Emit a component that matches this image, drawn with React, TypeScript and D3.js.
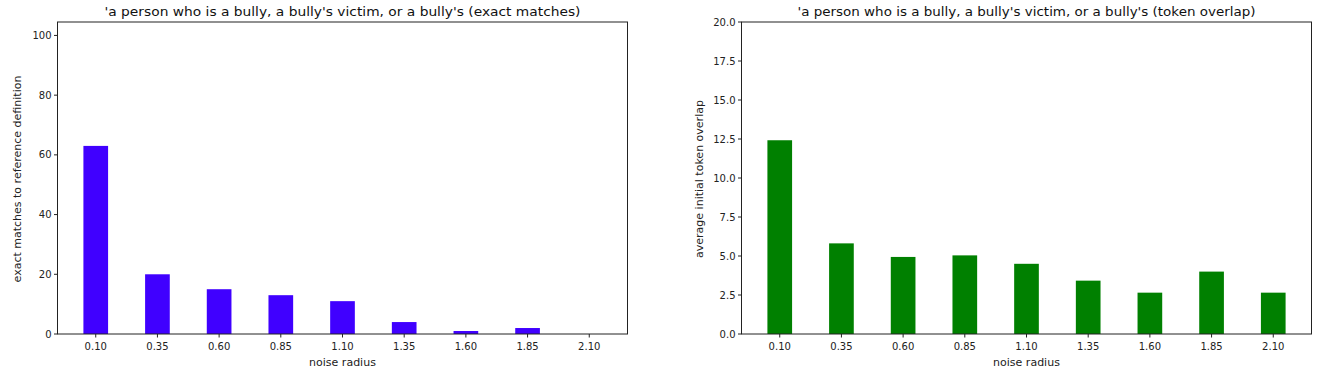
import React from "react";
import * as d3 from "d3";

const categories = ["0.10", "0.35", "0.60", "0.85", "1.10", "1.35", "1.60", "1.85", "2.10"];
const xValues = [0.1, 0.35, 0.6, 0.85, 1.1, 1.35, 1.6, 1.85, 2.1];
const exactMatches = [63, 20, 15, 13, 11, 4, 1, 2, 0];
const tokenOverlap = [12.42, 5.81, 4.94, 5.04, 4.5, 3.42, 2.65, 4.0, 2.65];
const leftTicks = [0, 20, 40, 60, 80, 100];
const rightTicks = [0, 2.5, 5, 7.5, 10, 12.5, 15, 17.5, 20];

const W = 1322;
const H = 375;
const FONT = "DejaVu Sans, sans-serif";

type PanelProps = {
  left: number;
  right: number;
  top: number;
  bottom: number;
  values: number[];
  yMax: number;
  ticks: number[];
  tickFmt: (v: number) => string;
  color: string;
  title: string;
  titleLen: number;
  ylabel: string;
  ylabelX: number;
  ylabelCY: number;
};

function Panel(p: PanelProps) {
  const x = d3.scaleLinear().domain([-0.055, 2.255]).range([p.left, p.right]);
  const y = d3.scaleLinear().domain([0, p.yMax]).range([p.bottom, p.top]);
  const barW = x(0.1) - x(0);
  const cx = (p.left + p.right) / 2;
  return (
    <g fontFamily={FONT}>
      {p.values.map((v, i) => (
        <rect
          key={i}
          x={x(xValues[i]) - barW / 2}
          y={y(v)}
          width={barW}
          height={p.bottom - y(v)}
          fill={p.color}
        />
      ))}
      <rect
        x={p.left}
        y={p.top}
        width={p.right - p.left}
        height={p.bottom - p.top}
        fill="none"
        stroke="#222"
        strokeWidth={1}
      />
      {p.ticks.map((t, i) => (
        <g key={i}>
          <line x1={p.left - 3.5} x2={p.left} y1={y(t)} y2={y(t)} stroke="#222" />
          <text x={p.left - 6} y={y(t)} dy="0.35em" textAnchor="end" fontSize={10} fill="#222">
            {p.tickFmt(t)}
          </text>
        </g>
      ))}
      {categories.map((c, i) => (
        <g key={c}>
          <line x1={x(xValues[i])} x2={x(xValues[i])} y1={p.bottom} y2={p.bottom + 3.5} stroke="#222" />
          <text x={x(xValues[i])} y={p.bottom + 16} textAnchor="middle" fontSize={10} fill="#222">
            {c}
          </text>
        </g>
      ))}
      <text x={cx} y={p.bottom + 32} textAnchor="middle" fontSize={11} fill="#222">
        noise radius
      </text>
      <text
        transform={`translate(${p.ylabelX},${p.ylabelCY}) rotate(-90)`}
        textAnchor="middle"
        fontSize={11}
        fill="#222"
      >
        {p.ylabel}
      </text>
      <text
        x={cx}
        y={p.top - 6}
        textAnchor="middle"
        fontSize={12}
        fill="#111"
        textLength={p.titleLen}
        lengthAdjust="spacingAndGlyphs"
      >
        {p.title}
      </text>
    </g>
  );
}

export default function App() {
  return (
    <svg width={W} height={H} style={{ display: "block", position: "absolute", left: 0, top: 0 }}>
      <rect width={W} height={H} fill="#fff" />
      <Panel
        left={57.5}
        right={627.5}
        top={22}
        bottom={334}
        values={exactMatches}
        yMax={104.5}
        ticks={leftTicks}
        tickFmt={(v) => String(v)}
        color="#4000ff"
        title="'a person who is a bully, a bully's victim, or a bully's (exact matches)"
        titleLen={476}
        ylabel="exact matches to reference definition"
        ylabelX={21}
        ylabelCY={179}
      />
      <Panel
        left={741.5}
        right={1311.5}
        top={22}
        bottom={334}
        values={tokenOverlap}
        yMax={20}
        ticks={rightTicks}
        tickFmt={(v) => v.toFixed(1)}
        color="#008000"
        title="'a person who is a bully, a bully's victim, or a bully's (token overlap)"
        titleLen={458}
        ylabel="average initial token overlap"
        ylabelX={703}
        ylabelCY={179}
      />
    </svg>
  );
}
